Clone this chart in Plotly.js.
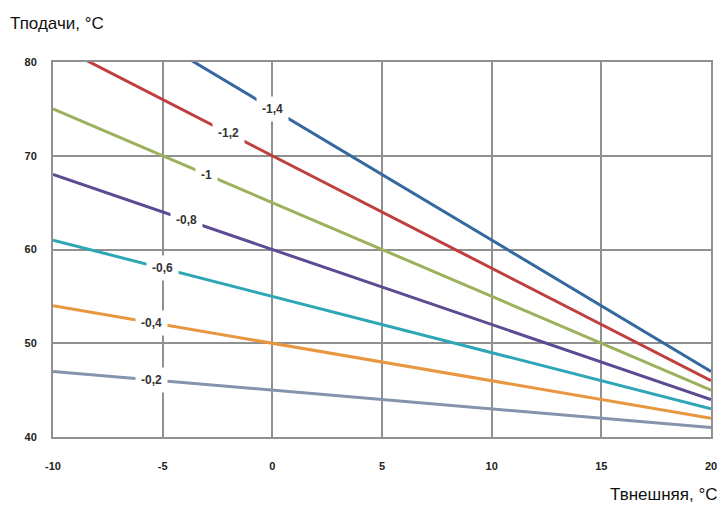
<!DOCTYPE html>
<html>
<head>
<meta charset="utf-8">
<script src="https://cdn.plot.ly/plotly-3.0.1.min.js"></script>
<style>html,body{margin:0;padding:0;background:#fff;}#chart{width:726px;height:506px;}</style>
</head>
<body>
<div id="chart"></div>
<script>
// Outdoor temperature endpoints (°C)
const tOut = [-10, 20];
// Curve names (slope labels as printed)
const curveLabels = ['-0,2', '-0,4', '-0,6', '-0,8', '-1', '-1,2', '-1,4'];
// Supply temperature at tOut endpoints, per curve
const curve02 = [47, 41];
const curve04 = [54, 42];
const curve06 = [61, 43];
const curve08 = [68, 44];
const curve10 = [75, 45];
const curve12 = [82, 46];
const curve14 = [89, 47];
// Label positions on each curve (x, y)
const labelX = [-5.5, -5.5, -5, -3.9, -3, -2, 0];
const labelY = [46.1, 52.2, 58, 63.1, 68, 72.4, 75];
// Axis ticks
const xTicks = [-10, -5, 0, 5, 10, 15, 20];
const yTicks = [40, 50, 60, 70, 80];

const seriesY = [curve02, curve04, curve06, curve08, curve10, curve12, curve14];
const colors = ['#8593ad', '#e8963f', '#2fa6b5', '#5c4a92', '#9bb15e', '#bf3f3f', '#35689e'];

const traces = seriesY.map((ys, i) => ({
  x: tOut, y: ys, mode: 'lines', type: 'scatter', name: curveLabels[i],
  line: {color: colors[i], width: 3}, hoverinfo: 'skip', showlegend: false
}));

const annotations = curveLabels.map((t, i) => ({
  x: labelX[i], y: labelY[i], xref: 'x', yref: 'y', text: t, showarrow: false,
  font: {family: 'Liberation Sans, Arial', size: 12, color: '#333', weight: 'bold'},
  bgcolor: '#ffffff', borderpad: 5
}));
annotations.push({
  xref: 'paper', yref: 'paper', x: -0.069, y: 1.0, yshift: 39, xanchor: 'left', yanchor: 'middle',
  text: 'Тподачи, °C', showarrow: false,
  font: {family: 'Liberation Sans, Arial', size: 17, color: '#111'}
});
annotations.push({
  xref: 'paper', yref: 'paper', x: 1.0, y: 0, xshift: 8, yshift: -57, xanchor: 'right', yanchor: 'middle',
  text: 'Твнешняя, °C', showarrow: false,
  font: {family: 'Liberation Sans, Arial', size: 17, color: '#111'}
});

const layout = {
  width: 726, height: 506,
  margin: {l: 53, r: 15, t: 62, b: 69},
  paper_bgcolor: '#fff', plot_bgcolor: '#fff',
  showlegend: false,
  xaxis: {
    range: [-10, 20], tickvals: xTicks, ticktext: xTicks.map(String),
    showgrid: true, gridcolor: '#909090', gridwidth: 2,
    showline: true, linecolor: '#909090', linewidth: 2, mirror: true,
    zeroline: false, ticks: '', ticklen: 0, ticklabelstandoff: 18,
    tickfont: {family: 'Liberation Sans, Arial', size: 11, color: '#222', weight: 'bold'}
  },
  yaxis: {
    range: [40, 80], tickvals: yTicks, ticktext: yTicks.map(String),
    showgrid: true, gridcolor: '#909090', gridwidth: 2,
    showline: true, linecolor: '#909090', linewidth: 2, mirror: true,
    zeroline: false, ticks: '', ticklen: 0, ticklabelstandoff: 12,
    tickfont: {family: 'Liberation Sans, Arial', size: 11, color: '#222', weight: 'bold'}
  },
  annotations: annotations
};

Plotly.newPlot('chart', traces, layout, {staticPlot: true, displayModeBar: false});
</script>
</body>
</html>
